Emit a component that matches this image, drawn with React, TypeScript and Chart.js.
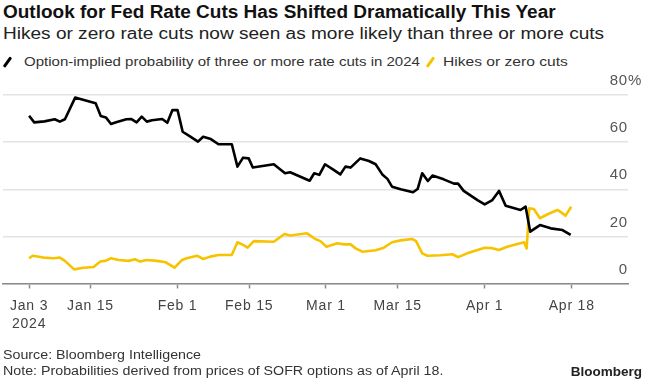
import React, { useEffect, useRef } from "react";
import { Chart, registerables } from "chart.js";

Chart.register(...registerables);

// x = calendar days since Jan 3, 2024
const threeCutsDays = [0, 1, 3, 5, 6, 7, 9, 10, 13, 14, 15, 16, 17, 19, 20, 21, 22, 23, 24, 26, 27, 28, 29, 30, 31.5, 33, 34, 35.5, 37, 39.6, 40.7, 41.8, 42.9, 43.7, 47.8, 50, 51, 54.8, 55.7, 56.7, 57.8, 59.5, 60.8, 61.8, 62.8, 64.7, 66.4, 67.7, 69, 70, 70.9, 72.6, 75, 75.9, 76.8, 77.9, 78.8, 81, 83, 83.8, 84.9, 87.6, 89, 90.5, 91.8, 93.1, 96, 97, 97.9, 99.8, 101.9, 104.2, 105.8];
const threeCutsValues = [71.2, 68.4, 68.8, 69.7, 68.7, 69.7, 78.9, 78.3, 76.5, 71.1, 70.5, 67.7, 68.4, 69.7, 69.8, 68.4, 70.8, 68.7, 69.3, 69.8, 68.2, 73.6, 73.6, 64.4, 62.3, 60.2, 62.3, 61.3, 59.1, 59.1, 49.6, 53.4, 53.1, 49.2, 50.6, 46.8, 47.2, 43.6, 46.8, 46.1, 50.6, 48.2, 46.3, 49.6, 49.2, 53.1, 52.0, 50.6, 46.3, 44.4, 41.1, 40.0, 38.7, 40.1, 46.8, 43.5, 45.8, 44.2, 42.4, 42.4, 39.3, 35.4, 33.6, 35.4, 39.3, 33.0, 31.2, 32.6, 22.0, 24.8, 23.4, 22.7, 20.6];

const zeroCutsDays = [0, 0.7, 2.8, 4.8, 6, 7, 8.8, 10.6, 12.6, 13.9, 14.9, 16, 17.5, 19.4, 20.7, 21.7, 23, 25, 26.7, 28.4, 29.9, 30.8, 32.8, 34, 35.4, 37, 39.6, 40.7, 41.8, 42.7, 43.9, 47.8, 49.9, 51, 54.3, 55.9, 56.9, 58.1, 60.2, 61.5, 62.8, 63.8, 65.1, 67.7, 69.3, 70.9, 72.6, 74.8, 75.6, 76.8, 77.8, 80.4, 82.7, 83.8, 85.6, 87.6, 89, 90.5, 91.8, 93.4, 96.7, 97.2, 97.7, 98.6, 99.8, 101.3, 103.2, 103.6, 104.8, 105.9];
const zeroCutsValues = [10.7, 11.8, 11.0, 10.7, 11.0, 9.6, 6.0, 6.7, 7.0, 9.3, 9.6, 10.7, 10.0, 9.6, 10.3, 9.3, 10.0, 9.6, 9.0, 6.7, 10.0, 10.7, 11.8, 10.4, 11.4, 12.1, 12.1, 17.5, 16.4, 15.2, 18.0, 17.7, 21.0, 20.4, 21.3, 18.9, 18.0, 15.6, 17.1, 16.6, 16.6, 14.9, 13.5, 14.1, 15.2, 17.5, 18.3, 18.9, 18.0, 12.8, 11.8, 12.0, 12.4, 11.2, 12.8, 14.2, 15.2, 15.0, 14.2, 15.6, 17.5, 14.9, 31.9, 31.6, 27.7, 29.4, 31.2, 30.7, 28.8, 32.6];

const xTickDays = [0, 12, 29, 43, 58, 72, 89, 106];
const xTickLabels: (string | string[])[] = [["Jan 3", "2024"], "Jan 15", "Feb 1", "Feb 15", "Mar 1", "Mar 15", "Apr 1", "Apr 18"];
const yTicks = [0, 20, 40, 60, 80];

const seriesNames = ["Option-implied probability of three or more rate cuts in 2024", "Hikes or zero cuts"];
const BLACK = "#000000";
const YELLOW = "#f7c300";
const FONT = "'Liberation Sans', Arial, sans-serif";

const spacingPlugin = {
  id: "letterSpacing",
  beforeDraw(chart: any) {
    try {
      chart.ctx.letterSpacing = "0.8px";
    } catch (e) {}
  },
};

const percentPlugin = {
  id: "percentSuffix",
  afterDraw(chart: any) {
    const y = chart.scales.y;
    const ctx = chart.ctx;
    const top = yTicks[yTicks.length - 1];
    const py = y.getPixelForValue(top) - 14;
    ctx.save();
    ctx.font = `15px ${FONT}`;
    ctx.fillStyle = "#555";
    ctx.textAlign = "left";
    ctx.textBaseline = "middle";
    ctx.fillText("%", y.left, py);
    ctx.restore();
  },
};

function Stretch({ sx, children }: { sx: number; children: any }) {
  return (
    <span style={{ display: "inline-block", transform: `scaleX(${sx})`, transformOrigin: "left center", whiteSpace: "nowrap" }}>
      {children}
    </span>
  );
}

function Slash({ color, left }: { color: string; left: number }) {
  return (
    <span
      style={{
        position: "absolute",
        left,
        top: 56,
        width: 2.6,
        height: 12,
        background: color,
        transform: "rotate(35deg)",
        borderRadius: 1,
      }}
    />
  );
}

export default function App() {
  const canvasRef = useRef<HTMLCanvasElement | null>(null);

  useEffect(() => {
    if (!canvasRef.current) return;
    const chart = new Chart(canvasRef.current, {
      type: "line",
      data: {
        datasets: [
          {
            label: seriesNames[0],
            data: threeCutsDays.map((d, i) => ({ x: d, y: threeCutsValues[i] })),
            borderColor: BLACK,
            borderWidth: 2.6,
            pointRadius: 0,
            tension: 0,
            borderJoinStyle: "round",
          },
          {
            label: seriesNames[1],
            data: zeroCutsDays.map((d, i) => ({ x: d, y: zeroCutsValues[i] })),
            borderColor: YELLOW,
            borderWidth: 2.6,
            pointRadius: 0,
            tension: 0,
            borderJoinStyle: "round",
          },
        ],
      },
      options: {
        animation: false,
        responsive: false,
        devicePixelRatio: 1,
        layout: { padding: { left: 3, right: 18, top: 25, bottom: 21.5 } },
        plugins: { legend: { display: false }, tooltip: { enabled: false } },
        scales: {
          x: {
            type: "linear",
            min: -5.1,
            max: 117,
            position: "bottom",
            afterBuildTicks: (s: any) => {
              s.ticks = xTickDays.map((v) => ({ value: v }));
            },
            afterFit: (s: any) => {
              s.height = 45;
            },
            ticks: {
              autoSkip: false,
              maxRotation: 0,
              padding: 8.5,
              color: "#444",
              font: { family: FONT, size: 14, lineHeight: 1.28 },
              callback: (v: any) => {
                const i = xTickDays.indexOf(Number(v));
                return i >= 0 ? xTickLabels[i] : "";
              },
            },
            grid: {
              drawOnChartArea: false,
              drawTicks: true,
              tickLength: 5,
              tickColor: "#8a8a8a",
              tickWidth: 1.5,
            },
            border: { display: true, color: "#8a8a8a", width: 1.5 },
          },
          y: {
            min: 0,
            max: 80,
            position: "right",
            afterBuildTicks: (s: any) => {
              s.ticks = yTicks.map((v) => ({ value: v }));
            },
            afterFit: (s: any) => {
              s.width = 0;
            },
            ticks: {
              mirror: true,
              padding: 0,
              labelOffset: -14,
              color: "#555",
              font: { family: FONT, size: 15 },
              callback: (v: any) => String(v),
            },
            grid: { color: "#e3e3e3", lineWidth: 1.5, drawTicks: false },
            border: { display: false },
          },
        },
      },
      plugins: [spacingPlugin, percentPlugin],
    } as any);
    return () => chart.destroy();
  }, []);

  return (
    <div
      style={{
        position: "fixed",
        left: 0,
        top: 0,
        width: 646,
        height: 384,
        background: "#fff",
        fontFamily: FONT,
        overflow: "hidden",
      }}
    >
      <div style={{ position: "absolute", left: 3, top: 2, fontSize: 18, fontWeight: 700, lineHeight: "20px", color: "#111" }}>
        <Stretch sx={1.055}>Outlook for Fed Rate Cuts Has Shifted Dramatically This Year</Stretch>
      </div>
      <div style={{ position: "absolute", left: 3, top: 24, fontSize: 16, lineHeight: "20px", color: "#222" }}>
        <Stretch sx={1.19}>Hikes or zero rate cuts now seen as more likely than three or more cuts</Stretch>
      </div>
      <Slash color={BLACK} left={6} />
      <div style={{ position: "absolute", left: 24, top: 53, fontSize: 13, lineHeight: "18px", color: "#333" }}>
        <Stretch sx={1.156}>{seriesNames[0]}</Stretch>
      </div>
      <Slash color={YELLOW} left={429} />
      <div style={{ position: "absolute", left: 443, top: 53, fontSize: 13, lineHeight: "18px", color: "#333" }}>
        <Stretch sx={1.2}>{seriesNames[1]}</Stretch>
      </div>
      <canvas
        ref={canvasRef}
        width={646}
        height={280}
        style={{ position: "absolute", left: 0, top: 70, width: 646, height: 280 }}
      />
      <div style={{ position: "absolute", left: 3, top: 347, fontSize: 12.5, lineHeight: "16px", color: "#333" }}>
        <Stretch sx={1.14}>Source: Bloomberg Intelligence</Stretch>
        <br />
        <Stretch sx={1.14}>Note: Probabilities derived from prices of SOFR options as of April 18.</Stretch>
      </div>
      <div style={{ position: "absolute", right: 4, top: 364, fontSize: 13.5, fontWeight: 700, lineHeight: "16px", color: "#222" }}>
        Bloomberg
      </div>
    </div>
  );
}
